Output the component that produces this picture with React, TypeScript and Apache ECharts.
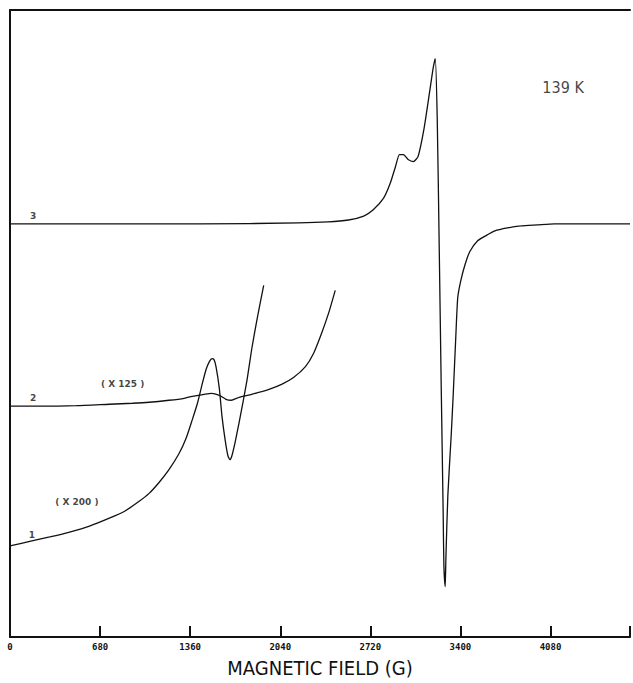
import React, { useEffect, useRef } from "react";
import * as echarts from "echarts";

// Magnetic field (G) and signal (arbitrary units, with each trace's vertical offset as drawn)
const FIELD_3 = [0, 1430, 2180, 2400, 2555, 2670, 2740, 2820, 2870, 2910, 2940, 2970, 3005, 3045, 3080, 3125, 3165, 3195, 3210, 3225, 3240, 3255, 3270, 3275, 3285, 3290, 3305, 3330, 3345, 3365, 3380, 3405, 3435, 3470, 3530, 3590, 3660, 3755, 3855, 3980, 4110, 4680];
const SIGNAL_3 = [417, 417, 418, 419, 421, 425, 431, 443, 458, 475, 487, 487, 482, 480, 485, 513, 548, 575, 584, 523, 393, 253, 123, 73, 51, 78, 143, 203, 243, 303, 343, 361, 376, 389, 400, 405, 410, 413, 415, 416, 417, 417];

const FIELD_2 = [0, 225, 500, 750, 925, 1050, 1200, 1315, 1375, 1465, 1520, 1580, 1630, 1670, 1730, 1825, 1955, 2050, 2140, 2230, 2290, 2350, 2405, 2455];
const SIGNAL_2 = [233, 233, 233.5, 235, 236, 237, 239, 241, 243, 245, 246, 244, 240, 239, 242, 245, 250, 255, 262, 273, 286, 306, 327, 350];

const FIELD_1 = [0, 165, 300, 450, 600, 750, 865, 975, 1050, 1125, 1200, 1275, 1330, 1375, 1415, 1450, 1480, 1505, 1525, 1540, 1555, 1580, 1600, 1625, 1645, 1660, 1675, 1700, 1730, 1760, 1790, 1825, 1865, 1915];
const SIGNAL_1 = [92, 97, 101, 106, 112, 120, 127, 137, 145, 156, 169, 185, 201, 219, 236, 255, 270, 278, 281, 280, 273, 251, 223, 198, 183, 179, 183, 197, 217, 238, 260, 291, 321, 355];

const NOTE_TEXT = ["3", "2", "1", "( X 125 )", "( X 200 )", "139 K"];
const NOTE_FIELD = [175, 175, 165, 850, 505, 4175];
const NOTE_SIGNAL = [425, 241, 103, 255, 136, 555];

const pairs = (xs: number[], ys: number[]) => xs.map((x, i) => [x, ys[i]]);

export default function App() {
  const ref = useRef<HTMLDivElement>(null);
  useEffect(() => {
    if (!ref.current) return;
    const chart = echarts.init(ref.current, null, { renderer: "svg" });
    const lineStyle = { color: "#111", width: 1.3 };
    const noteData = NOTE_TEXT.map((t, i) => {
      const big = t === "139 K";
      return {
        value: [NOTE_FIELD[i], NOTE_SIGNAL[i]],
        name: t,
        label: big
          ? { fontSize: 16, fontWeight: "normal", fontFamily: "'Liberation Sans Narrow', 'DejaVu Sans Condensed', 'Liberation Sans', sans-serif" }
          : { fontSize: 9, fontWeight: "bold", fontFamily: "'DejaVu Sans', sans-serif" },
      };
    });
    const lineSeries = (xs: number[], ys: number[]) => ({
      type: "line",
      data: pairs(xs, ys),
      showSymbol: false,
      smooth: 0.2,
      lineStyle,
    });
    chart.setOption({
      animation: false,
      backgroundColor: "#fff",
      grid: { left: 10, right: 0, top: 10, bottom: 40, containLabel: false },
      xAxis: [
        {
          type: "value",
          min: 0,
          max: 4680,
          interval: 680,
          position: "bottom",
          name: "MAGNETIC FIELD (G)",
          nameLocation: "middle",
          nameGap: 21,
          nameTextStyle: {
            fontSize: 20,
            color: "#111",
            fontFamily: "'Liberation Sans Narrow', 'DejaVu Sans Condensed', 'Liberation Sans', sans-serif",
          },
          axisLine: { show: true, lineStyle: { color: "#111", width: 2 } },
          axisTick: { show: true, inside: true, length: 11, lineStyle: { color: "#111", width: 2 } },
          axisLabel: {
            show: true,
            margin: 5,
            fontSize: 9,
            fontWeight: "bold",
            color: "#111",
            fontFamily: "'DejaVu Sans Mono', monospace",
            formatter: (v: number) => (v > 4100 ? "" : String(v)),
          },
          splitLine: { show: false },
        },
        {
          type: "value",
          min: 0,
          max: 4680,
          position: "top",
          axisLine: { show: true, lineStyle: { color: "#111", width: 2 } },
          axisTick: { show: false },
          axisLabel: { show: false },
          splitLine: { show: false },
        },
      ],
      yAxis: {
        type: "value",
        min: 0,
        max: 633,
        axisLine: { show: true, lineStyle: { color: "#111", width: 2 } },
        axisTick: { show: false },
        axisLabel: { show: false },
        splitLine: { show: false },
      },
      series: [
        lineSeries(FIELD_3, SIGNAL_3),
        lineSeries(FIELD_2, SIGNAL_2),
        lineSeries(FIELD_1, SIGNAL_1),
        {
          type: "scatter",
          data: noteData,
          symbolSize: 0,
          silent: true,
          label: { show: true, position: "inside", formatter: "{b}", color: "#111" },
        },
      ],
    });
    return () => chart.dispose();
  }, []);
  return <div ref={ref} style={{ position: "fixed", left: 0, top: 0, width: 633, height: 683 }} />;
}
